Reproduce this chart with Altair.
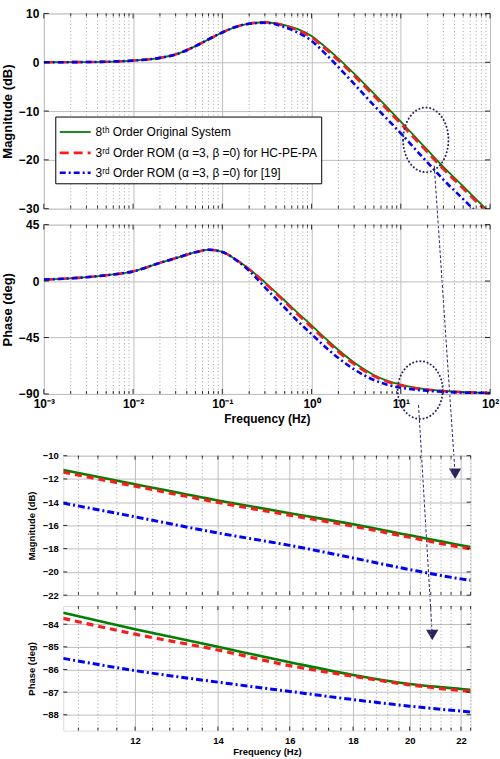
import altair as alt
import pandas as pd

# ---------------- data ----------------
freq = [0.001, 0.002, 0.005, 0.01, 0.02, 0.03, 0.05, 0.07, 0.1, 0.15, 0.2, 0.3,
        0.5, 0.7, 1, 1.5, 2, 3, 5, 7, 10, 15, 20, 30, 50, 70, 100]
mag_orig = [0.0, 0.02, 0.1, 0.35, 0.9, 1.6, 3.3, 4.7, 6.1, 7.4, 7.9, 8.2,
            7.6, 6.8, 5.4, 2.76, 0.76, -2.32, -6.43, -9.2, -12.15, -15.58, -18.02, -21.45, -25.44, -28.07, -30.86]
mag_hc = [0.0, 0.02, 0.1, 0.35, 0.9, 1.6, 3.3, 4.7, 6.1, 7.4, 7.9, 8.2,
          7.5, 6.6, 5.1, 2.41, 0.36, -2.77, -6.88, -9.65, -12.6, -16.03, -18.47, -21.9, -25.89, -28.52, -31.31]
mag_ref = [0.0, 0.02, 0.1, 0.35, 0.9, 1.6, 3.3, 4.7, 6.1, 7.4, 7.9, 8.1,
           7.2, 6.1, 4.4, 1.36, -0.99, -4.42, -8.83, -11.6, -14.55, -18.08, -20.57, -24.05, -28.04, -30.67, -33.46]
ph_orig = [1.2, 2.2, 4.6, 7.7, 14.5, 18.3, 23.0, 25.0, 23.2, 16.0, 9.7, -1.0,
           -15.5, -25.3, -35.3, -47.0, -55.0, -65.0, -74.9, -79.4, -82.65, -85.2, -86.4, -87.6, -88.5, -88.9, -89.25]
ph_hc = [1.2, 2.2, 4.6, 7.7, 14.5, 18.3, 23.0, 25.0, 23.2, 16.0, 9.4, -1.5,
         -16.5, -26.6, -36.8, -48.5, -56.5, -66.2, -75.8, -80.1, -83.15, -85.55, -86.65, -87.75, -88.6, -88.9, -89.25]
ph_ref = [1.2, 2.2, 4.6, 7.7, 14.5, 18.3, 23.0, 25.0, 23.2, 15.6, 8.2, -5.0,
          -21.3, -32.0, -42.3, -53.9, -61.4, -70.4, -78.9, -82.6, -85.05, -86.7, -87.5, -88.3, -88.9, -89.15, -89.4]

zoom_freq = [10.5, 12, 14, 16, 18, 20, 22, 22.4]
zmag_orig = [-11.23, -12.45, -13.85, -14.95, -15.9, -16.85, -17.7, -17.85]
zmag_hc = [-11.42, -12.62, -14.02, -15.12, -16.07, -17.02, -17.88, -18.02]
zmag_ref = [-14.08, -15.26, -16.65, -17.72, -18.8, -19.8, -20.6, -20.72]
zph_orig = [-83.49, -84.22, -85.0, -85.68, -86.24, -86.64, -86.86, -86.9]
zph_hc = [-83.74, -84.44, -85.14, -85.83, -86.3, -86.68, -86.93, -86.97]
zph_ref = [-85.51, -86.05, -86.56, -86.97, -87.33, -87.62, -87.84, -87.88]

legend_labels = ["8ᵗʰ Order Original System",
                 "3ʳᵈ Order ROM (α =3, β =0) for HC-PE-PA",
                 "3ʳᵈ Order ROM (α =3, β =0) for [19]"]

# axis ticks / grids
decades = [0.001, 0.01, 0.1, 1, 10, 100]
minor_mult = [2, 3, 4, 5, 6, 7, 8, 9]
log_minor = [m * d for d in decades[:-1] for m in minor_mult]
mag_ticks = [-30, -20, -10, 0, 10]
ph_ticks = [-90, -45, 0, 45]
zoom_major = [12, 14, 16, 18, 20, 22]
zoom_minor = [10.8, 11.2, 11.6, 12.4, 12.8, 13.2, 13.6, 14.4, 14.8, 15.2, 15.6,
              16.4, 16.8, 17.2, 17.6, 18.4, 18.8, 19.2, 19.6, 20.4, 20.8, 21.2, 21.6, 22.4]
zmag_ticks = [-22, -20, -18, -16, -14, -12, -10]
zph_ticks = [-88, -87, -86, -85, -84]

# annotations (ellipses and arrows), in the data units of each panel
mag_ellipse = {"f": [19.05], "v": [-15.9]}
mag_arrow = {"f": [23.7], "v": [-21.2], "f2": [40.6], "v2": [-84.3]}
ph_ellipse = {"f": [16.5], "v": [-86.9]}
ph_arrow = {"f": [15.8], "v": [-98.8], "f2": [22.5], "v2": [-282.2]}

# ---------------- styles ----------------
FONT = "Liberation Sans"
GREEN, RED, BLUE = "#008000", "#ff1a1a", "#0000ff"
ANNOT = "#2e2260"
GRID_MAJOR = "#bdbdbd"
GRID_MINOR = "#8c8c8c"

styles_top = [
    dict(color=GREEN, strokeWidth=1.8),
    dict(color=RED, strokeWidth=2.6, strokeDash=[9, 5]),
    dict(color=BLUE, strokeWidth=2.6, strokeDash=[6, 3, 2, 3]),
]
styles_bot = [
    dict(color=GREEN, strokeWidth=2.6),
    dict(color=RED, strokeWidth=3.2, strokeDash=[7, 5]),
    dict(color=BLUE, strokeWidth=3.0, strokeDash=[7, 3, 2, 3]),
]


def one_row():
    return pd.DataFrame({"a": [0]})


def panel(xs, ys, xax, yax, curves, styles, xmajor, xminor, yticks, width, height,
          tick_major=5, tick_minor=3):
    X = lambda: alt.X("f:Q", scale=xs, axis=xax)
    Y = lambda: alt.Y("v:Q", scale=ys, axis=yax)
    layers = []
    minor_df = pd.DataFrame({"f": xminor})
    major_df = pd.DataFrame({"f": xmajor})
    yt_df = pd.DataFrame({"v": yticks})
    layers.append(alt.Chart(minor_df).mark_rule(color=GRID_MINOR, strokeWidth=0.8,
                                                strokeDash=[1, 2.5]).encode(x=X()))
    for (fx, vals), st in zip(curves, styles):
        df = pd.DataFrame({"f": fx, "v": vals})
        layers.append(alt.Chart(df).mark_line(clip=True, interpolate="monotone", **st)
                      .encode(x=X(), y=Y()))
    # inward ticks
    for dfx, ln in ((major_df, tick_major), (minor_df, tick_minor)):
        layers.append(alt.Chart(dfx).mark_rule(color="black", strokeWidth=0.8)
                      .encode(x=X(), y=alt.value(0), y2=alt.value(ln)))
        layers.append(alt.Chart(dfx).mark_rule(color="black", strokeWidth=0.8)
                      .encode(x=X(), y=alt.value(height), y2=alt.value(height - ln)))
    layers.append(alt.Chart(yt_df).mark_rule(color="black", strokeWidth=0.8)
                  .encode(y=Y(), x=alt.value(0), x2=alt.value(tick_major)))
    layers.append(alt.Chart(yt_df).mark_rule(color="black", strokeWidth=0.8)
                  .encode(y=Y(), x=alt.value(width), x2=alt.value(width - tick_major)))
    return layers, X, Y


def ellipse_shape(rx):
    return f"M {-rx},0 A {rx},1 0 1,1 {rx},0 A {rx},1 0 1,1 {-rx},0 Z"


# ---------------- panel 1: magnitude ----------------
W1, H1, H2 = 448, 196, 170
xs_log = alt.Scale(type="log", domain=[0.001, 100], nice=False)
ys_mag = alt.Scale(domain=[-30, 10], nice=False, zero=False)
ax_x1 = alt.Axis(values=decades, labels=False, ticks=False, domain=False, grid=True,
                 gridColor=GRID_MAJOR, gridWidth=1, title=None)
ax_y1 = alt.Axis(values=mag_ticks, grid=True, gridColor=GRID_MAJOR, ticks=False, domain=False,
                 title="Magnitude (dB)", labelFontSize=12, labelFontWeight="bold",
                 titleFontSize=13, titleFontWeight="bold", labelPadding=5, titlePadding=4,
                 labelColor="black", titleColor="black", labelFont=FONT, titleFont=FONT)
l1, X1, Y1 = panel(xs_log, ys_mag, ax_x1, ax_y1,
                   [(freq, mag_orig), (freq, mag_hc), (freq, mag_ref)], styles_top,
                   decades, log_minor, mag_ticks, W1, H1)

# legend box
l1.append(alt.Chart(one_row()).mark_rect(fill="white", stroke="black", strokeWidth=1)
          .encode(x=alt.value(12), x2=alt.value(279), y=alt.value(104), y2=alt.value(171)))
leg_rows = [119, 140, 160]
for lab, st, ry in zip(legend_labels, styles_top, leg_rows):
    st2 = dict(st)
    l1.append(alt.Chart(one_row()).mark_rule(**st2)
              .encode(x=alt.value(16), x2=alt.value(47), y=alt.value(ry)))
    l1.append(alt.Chart(pd.DataFrame({"t": [lab]})).mark_text(
        align="left", baseline="middle", font=FONT, fontSize=12, color="black")
        .encode(x=alt.value(52), y=alt.value(ry), text="t:N"))

# ellipse + arrow from magnitude panel
l1.append(alt.Chart(pd.DataFrame(mag_ellipse)).mark_point(
    shape=ellipse_shape(0.70), size=65 * 65, filled=False, opacity=1, stroke=ANNOT,
    strokeWidth=2, strokeDash=[0.1, 3.6], strokeCap="round", clip=False)
    .encode(x=X1(), y=Y1()))
l1.append(alt.Chart(pd.DataFrame(mag_arrow)).mark_rule(
    color=ANNOT, strokeWidth=1, strokeDash=[3, 2], clip=False)
    .encode(x=X1(), y=Y1(), x2="f2:Q", y2="v2:Q"))
l1.append(alt.Chart(pd.DataFrame(mag_arrow)).mark_point(
    shape="triangle-down", size=150, filled=True, opacity=1, color=ANNOT, clip=False)
    .encode(x=alt.X("f2:Q", scale=xs_log, axis=ax_x1), y=alt.Y("v2:Q", scale=ys_mag, axis=ax_y1)))
p1 = alt.layer(*l1).properties(width=W1, height=H1)

# ---------------- panel 2: phase ----------------
ys_ph = alt.Scale(domain=[-90, 45], nice=False, zero=False)
label_expr = ("datum.value < 0.005 ? '10⁻³' : datum.value < 0.05 ? '10⁻²' : "
              "datum.value < 0.5 ? '10⁻¹' : datum.value < 5 ? '10⁰' : "
              "datum.value < 50 ? '10¹' : '10²'")
ax_x2 = alt.Axis(values=decades, labelExpr=label_expr, ticks=False, domain=False, grid=True,
                 gridColor=GRID_MAJOR, title="Frequency  (Hz)", labelFontSize=12,
                 labelFontWeight="bold", titleFontSize=12, titleFontWeight="bold",
                 labelPadding=5, titlePadding=4, labelColor="black", titleColor="black",
                 labelFont=FONT, titleFont=FONT, labelFlush=False)
ax_y2 = alt.Axis(values=ph_ticks, grid=True, gridColor=GRID_MAJOR, ticks=False, domain=False,
                 title="Phase (deg)", labelFontSize=12, labelFontWeight="bold",
                 titleFontSize=13, titleFontWeight="bold", labelPadding=5, titlePadding=4,
                 labelColor="black", titleColor="black", labelFont=FONT, titleFont=FONT)
l2, X2, Y2 = panel(xs_log, ys_ph, ax_x2, ax_y2,
                   [(freq, ph_orig), (freq, ph_hc), (freq, ph_ref)], styles_top,
                   decades, log_minor, ph_ticks, W1, H2)
l2.append(alt.Chart(pd.DataFrame(ph_ellipse)).mark_point(
    shape=ellipse_shape(0.78), size=58 * 58, filled=False, opacity=1, stroke=ANNOT,
    strokeWidth=2, strokeDash=[0.1, 3.6], strokeCap="round", clip=False)
    .encode(x=X2(), y=Y2()))
l2.append(alt.Chart(pd.DataFrame(ph_arrow)).mark_rule(
    color=ANNOT, strokeWidth=1, strokeDash=[3, 2], clip=False)
    .encode(x=X2(), y=Y2(), x2="f2:Q", y2="v2:Q"))
l2.append(alt.Chart(pd.DataFrame(ph_arrow)).mark_point(
    shape="triangle-down", size=150, filled=True, opacity=1, color=ANNOT, clip=False)
    .encode(x=alt.X("f2:Q", scale=xs_log, axis=ax_x2), y=alt.Y("v2:Q", scale=ys_ph, axis=ax_y2)))
p2 = alt.layer(*l2).properties(width=W1, height=H2)

# ---------------- panel 3 & 4: zoomed view ----------------
W3, H3, H4 = 409, 140, 125
xs_z = alt.Scale(type="log", domain=[10.5, 22.4], nice=False)
ys_zm = alt.Scale(domain=[-22, -10], nice=False, zero=False)
ys_zp = alt.Scale(domain=[-88.7, -83.2], nice=False, zero=False)
small = dict(labelFontSize=9.5, labelFontWeight="bold", titleFontSize=9.5, titleFontWeight="bold",
             labelColor="black", titleColor="black", labelFont=FONT, titleFont=FONT)
ax_x3 = alt.Axis(values=zoom_major, labels=False, ticks=False, domain=False, grid=True,
                 gridColor=GRID_MAJOR, title=None)
ax_y3 = alt.Axis(values=zmag_ticks, grid=True, gridColor=GRID_MAJOR, ticks=False, domain=False,
                 title="Magnitude (dB)", labelPadding=5, titlePadding=6, **small)
l3, X3, Y3 = panel(xs_z, ys_zm, ax_x3, ax_y3,
                   [(zoom_freq, zmag_orig), (zoom_freq, zmag_hc), (zoom_freq, zmag_ref)], styles_bot,
                   zoom_major, zoom_minor, zmag_ticks, W3, H3, 4, 3)
p3 = alt.layer(*l3).properties(width=W3, height=H3)

ax_x4 = alt.Axis(values=zoom_major, format="d", ticks=False, domain=False, grid=True,
                 gridColor=GRID_MAJOR, title="Frequency  (Hz)", labelPadding=5, titlePadding=2,
                 **small)
ax_y4 = alt.Axis(values=zph_ticks, grid=True, gridColor=GRID_MAJOR, ticks=False, domain=False,
                 title="Phase (deg)", labelPadding=5, titlePadding=6, **small)
l4, X4, Y4 = panel(xs_z, ys_zp, ax_x4, ax_y4,
                   [(zoom_freq, zph_orig), (zoom_freq, zph_hc), (zoom_freq, zph_ref)], styles_bot,
                   zoom_major, zoom_minor, zph_ticks, W3, H4, 4, 3)
p4 = alt.layer(*l4).properties(width=W3, height=H4)


def spacer(h):
    return (alt.Chart(one_row()).mark_point(opacity=0)
            .encode(x=alt.value(0), y=alt.value(0))
            .properties(width=1, height=h, view=alt.ViewBackground(stroke="transparent")))


chart = (alt.vconcat(p1, spacer(6), p2, spacer(52), p3, spacer(1), p4,
                     spacing=5, center=True, bounds="flush")
         .properties(padding={"left": 1, "top": 5, "right": 0, "bottom": 0})
         .configure_view(stroke="black", strokeWidth=1)
         .configure(font=FONT, background="white"))

chart.save("out.html", embed_options={"renderer": "svg", "actions": False})
